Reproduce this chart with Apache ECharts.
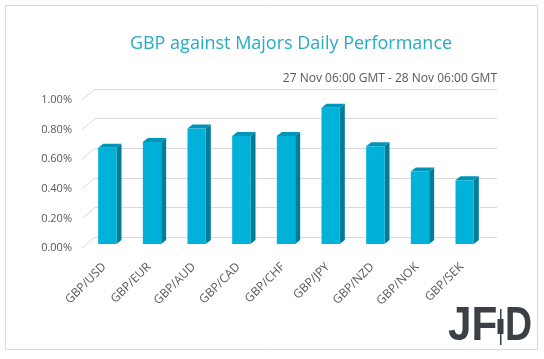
<!DOCTYPE html>
<html>
<head>
<meta charset="utf-8">
<style>html,body{margin:0;padding:0;background:#fff;}#c{width:544px;height:359px;}</style>
<script src="https://cdn.jsdelivr.net/npm/echarts@6/dist/echarts.min.js"></script>
</head>
<body>
<div id="c"></div>
<script>
var categories = ['GBP/USD','GBP/EUR','GBP/AUD','GBP/CAD','GBP/CHF','GBP/JPY','GBP/NZD','GBP/NOK','GBP/SEK'];
var values = [0.65, 0.69, 0.78, 0.73, 0.73, 0.92, 0.66, 0.49, 0.43];
var yTicks = [0, 0.2, 0.4, 0.6, 0.8, 1.0];
var titleText = 'GBP against Majors Daily Performance';
var subText = '27 Nov 06:00 GMT - 28 Nov 06:00 GMT';

var WALL_DX = 13, WALL_DY = -11;
var chart = echarts.init(document.getElementById('c'), null, {renderer: 'canvas'});

var barData = categories.map(function (c, i) { return [i, values[i]]; });
var tickData = yTicks.map(function (v) { return [0, v]; });

chart.setOption({
  animation: false,
  title: [{
    text: titleText, left: 286, top: 30, textAlign: 'center',
    textStyle: {fontFamily: 'Open Sans', fontSize: 18, fontWeight: 'normal', color: '#26abc8'}
  }, {
    text: subText, right: 42, top: 68,
    textStyle: {fontFamily: 'Open Sans', fontSize: 12, fontWeight: 'normal', color: '#595959'}
  }],
  grid: [
    {left: 82, top: 100, width: 402, height: 148},
    {left: 82 + WALL_DX, top: 100 + WALL_DY, width: 402, height: 148}
  ],
  xAxis: [{
    type: 'category', data: categories, gridIndex: 0,
    axisLine: {show: false}, axisTick: {show: false},
    axisLabel: {rotate: 45, margin: 17, fontFamily: 'Open Sans', fontSize: 12, color: '#595959'}
  }, {
    type: 'category', data: categories, gridIndex: 1, show: false
  }],
  yAxis: [{
    type: 'value', min: 0, max: 1, interval: 0.2, gridIndex: 0,
    axisLine: {show: false}, axisTick: {show: false}, splitLine: {show: false},
    axisLabel: {margin: 10, fontFamily: 'Open Sans', fontSize: 11, color: '#595959',
      formatter: function (v) { return v.toFixed(2) + '%'; }}
  }, {
    type: 'value', min: 0, max: 1, interval: 0.2, gridIndex: 1,
    axisLine: {show: false}, axisTick: {show: false}, axisLabel: {show: false},
    splitLine: {show: true, lineStyle: {color: '#d9d9d9', width: 1}}
  }],
  series: [{
    type: 'custom', xAxisIndex: 0, yAxisIndex: 0, data: tickData, silent: true,
    renderItem: function (params, api) {
      var y = api.coord([0, api.value(1)])[1];
      var x = params.coordSys.x;
      return {type: 'line', shape: {x1: x, y1: y, x2: x + WALL_DX, y2: y + WALL_DY},
        style: {stroke: '#d9d9d9', lineWidth: 1}};
    }
  }, {
    type: 'custom', xAxisIndex: 0, yAxisIndex: 0, data: barData,
    renderItem: function (params, api) {
      var top = api.coord([api.value(0), api.value(1)]);
      var base = api.coord([api.value(0), 0]);
      var band = api.size([1, 0])[0];
      var w = band * 0.41, ox = 3, oy = -4, dx = 5, dy = -4;
      var xl = top[0] - w / 2 + ox, xr = xl + w;
      var yt = top[1] + oy, yb = base[1] + oy;
      return {type: 'group', children: [
        {type: 'polygon', shape: {points: [[xr, yt], [xr + dx, yt + dy], [xr + dx, yb + dy], [xr, yb]]},
          style: {fill: '#007d99'}},
        {type: 'polygon', shape: {points: [[xl, yt], [xl + dx, yt + dy], [xr + dx, yt + dy], [xr, yt]]},
          style: {fill: '#0094b6'}},
        {type: 'rect', shape: {x: xl, y: yt, width: w, height: yb - yt},
          style: {fill: '#00b1da'}}
      ]};
    }
  }],
  graphic: [
    {type: 'rect', shape: {x: 5.5, y: 5.5, width: 532, height: 344},
      style: {fill: 'none', stroke: '#d9d9d9', lineWidth: 1}, silent: true},
    {type: 'text', x: 448, y: 327, scaleX: 0.88,
      style: {text: 'JF', font: 'bold 48px "Liberation Sans"', fill: '#3b4047', verticalAlign: 'middle'}},
    {type: 'rect', shape: {x: 500, y: 309, width: 1.5, height: 36}, style: {fill: '#3b4047'}},
    {type: 'rect', shape: {x: 497.5, y: 319, width: 6, height: 15}, style: {fill: '#3b4047'}},
    {type: 'text', x: 505, y: 327, scaleX: 0.78,
      style: {text: 'D', font: 'bold 48px "Liberation Sans"', fill: '#3b4047', verticalAlign: 'middle'}}
  ]
});
</script>
</body>
</html>
